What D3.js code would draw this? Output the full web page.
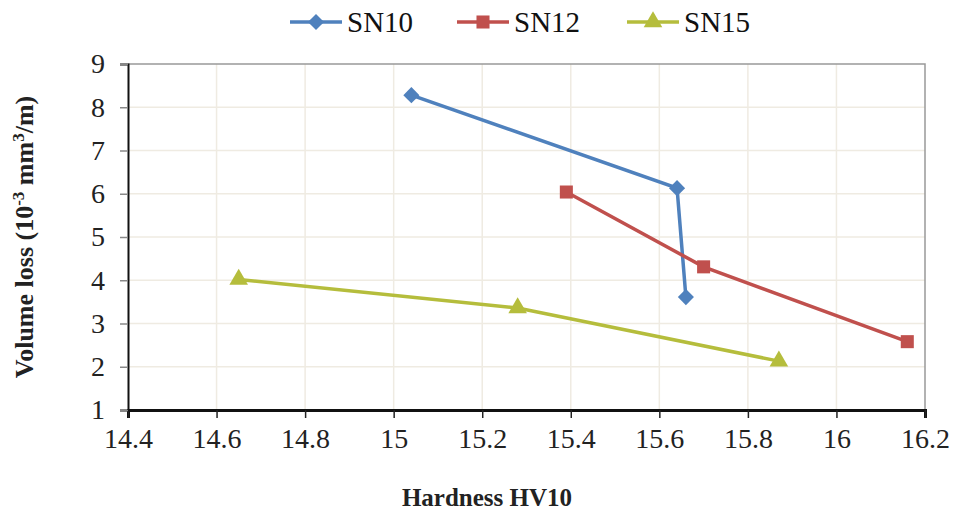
<!DOCTYPE html>
<html>
<head>
<meta charset="utf-8">
<script src="https://cdn.jsdelivr.net/npm/d3@7"></script>
<style>
  body { margin: 0; background: #fff; }
  svg text { font-family: "Liberation Serif", "Times New Roman", serif; }
</style>
</head>
<body>
<div id="chart"></div>
<script>
const seriesNames = ["SN10", "SN12", "SN15"];
const sn10 = [
  { hv: 15.04, loss: 8.28 },
  { hv: 15.64, loss: 6.13 },
  { hv: 15.66, loss: 3.61 },
];
const sn12 = [
  { hv: 15.39, loss: 6.04 },
  { hv: 15.70, loss: 4.31 },
  { hv: 16.16, loss: 2.58 },
];
const sn15 = [
  { hv: 14.65, loss: 4.02 },
  { hv: 15.28, loss: 3.36 },
  { hv: 15.87, loss: 2.13 },
];
const xTicks = [14.4, 14.6, 14.8, 15, 15.2, 15.4, 15.6, 15.8, 16, 16.2];
const yTicks = [1, 2, 3, 4, 5, 6, 7, 8, 9];

const width = 957, height = 515;
const margin = { top: 64, right: 32, bottom: 105, left: 128 };

// diamond = square turned 45 degrees
const series = [
  { name: seriesNames[0], data: sn10, color: "#4f81bd", symbol: d3.symbolSquare, size: 130, rotate: 45 },
  { name: seriesNames[1], data: sn12, color: "#c0504d", symbol: d3.symbolSquare, size: 170, rotate: 0 },
  { name: seriesNames[2], data: sn15, color: "#b5bd3c", symbol: d3.symbolTriangle, size: 150, rotate: 0 },
];

const x = d3.scaleLinear().domain([14.4, 16.2]).range([margin.left, width - margin.right]);
const y = d3.scaleLinear().domain([1, 9]).range([height - margin.bottom, margin.top]);

const svg = d3.select("#chart").append("svg")
  .attr("width", width)
  .attr("height", height);

// grid
svg.append("g")
  .selectAll("line")
  .data(xTicks.slice(1, -1))
  .join("line")
  .attr("x1", (d) => x(d)).attr("x2", (d) => x(d))
  .attr("y1", y(9)).attr("y2", y(1))
  .attr("stroke", "#efebe2").attr("stroke-width", 1.5);
svg.append("g")
  .selectAll("line")
  .data(yTicks.slice(1, -1))
  .join("line")
  .attr("x1", x(14.4)).attr("x2", x(16.2))
  .attr("y1", (d) => y(d)).attr("y2", (d) => y(d))
  .attr("stroke", "#efebe2").attr("stroke-width", 1.5);

// top and right frame
svg.append("path")
  .attr("d", `M${x(14.4)},${y(9)}H${x(16.2)}V${y(1)}`)
  .attr("fill", "none").attr("stroke", "#999").attr("stroke-width", 1.5);

// axes
const xAxis = svg.append("g")
  .attr("transform", `translate(0,${y(1)})`)
  .call(d3.axisBottom(x).tickValues(xTicks).tickFormat(d3.format("")).tickSize(8).tickPadding(10));
xAxis.select(".domain").attr("stroke", "#111").attr("stroke-width", 3);
xAxis.selectAll(".tick line").attr("stroke", "#222").attr("stroke-width", 1.5);
xAxis.selectAll("text").attr("font-size", 28).attr("fill", "#222");

const yAxis = svg.append("g")
  .attr("transform", `translate(${x(14.4)},0)`)
  .call(d3.axisLeft(y).tickValues(yTicks).tickSize(8).tickPadding(15));
yAxis.select(".domain").attr("stroke", "#111").attr("stroke-width", 2);
yAxis.selectAll(".tick line").attr("stroke", "#888").attr("stroke-width", 1.5);
yAxis.selectAll("text").attr("font-size", 28).attr("fill", "#222");

// series
const line = d3.line().x((d) => x(d.hv)).y((d) => y(d.loss));
series.forEach((s) => {
  svg.append("path")
    .datum(s.data)
    .attr("d", line)
    .attr("fill", "none")
    .attr("stroke", s.color)
    .attr("stroke-width", 3.5);
  svg.append("g")
    .selectAll("path")
    .data(s.data)
    .join("path")
    .attr("transform", (d) => `translate(${x(d.hv)},${y(d.loss)}) rotate(${s.rotate})`)
    .attr("d", d3.symbol(s.symbol, s.size))
    .attr("fill", s.color);
});

// axis titles
svg.append("text")
  .attr("x", 487).attr("y", 506)
  .attr("text-anchor", "middle")
  .attr("font-size", 25).attr("font-weight", "bold").attr("fill", "#222")
  .text("Hardness HV10");

const yTitle = svg.append("text")
  .attr("transform", `translate(33,${(y(1) + y(9)) / 2}) rotate(-90)`)
  .attr("text-anchor", "middle")
  .attr("font-size", 26).attr("font-weight", "bold").attr("fill", "#222");
yTitle.append("tspan").text("Volume loss (10");
yTitle.append("tspan").attr("dy", -9).attr("font-size", 17).text("-3");
yTitle.append("tspan").attr("dy", 9).text(" mm");
yTitle.append("tspan").attr("dy", -9).attr("font-size", 17).text("3");
yTitle.append("tspan").attr("dy", 9).text("/m)");

// legend
const legendX = [290, 457, 627];
const legend = svg.append("g")
  .selectAll("g")
  .data(series)
  .join("g")
  .attr("transform", (d, i) => `translate(${legendX[i]},22)`);
legend.append("line")
  .attr("x1", 0).attr("x2", 52)
  .attr("stroke", (d) => d.color).attr("stroke-width", 3.5);
legend.append("path")
  .attr("transform", (d) => `translate(26,0) rotate(${d.rotate})`)
  .attr("d", (d) => d3.symbol(d.symbol, d.size)())
  .attr("fill", (d) => d.color);
legend.append("text")
  .attr("x", 57).attr("y", 10)
  .attr("font-size", 29).attr("fill", "#111")
  .text((d) => d.name);
</script>
</body>
</html>
